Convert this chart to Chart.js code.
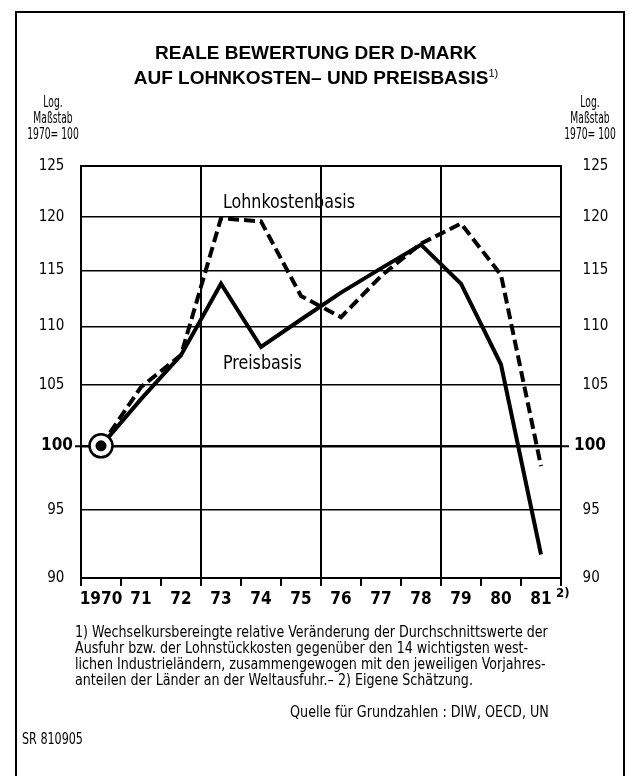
<!DOCTYPE html>
<html lang="de">
<head>
<meta charset="utf-8">
<title>Reale Bewertung der D-Mark</title>
<script src="https://cdn.jsdelivr.net/npm/chart.js@4.4.1/dist/chart.umd.min.js"></script>
<style>
    html, body { margin: 0; padding: 0; background: #fff; }
    body { width: 630px; height: 776px; position: relative; overflow: hidden; }
    #rahmen {
        position: absolute; left: 15px; top: 11px; width: 610px; height: 800px;
        border: 2px solid #000; border-bottom: none; box-sizing: border-box;
    }
    canvas { position: absolute; left: 0; top: 0; }
    .txt {
        position: absolute; color: #000; white-space: nowrap;
        font-family: "DejaVu Sans Condensed", "DejaVu Sans", sans-serif;
        transform-origin: left top;
    }
    #titel {
        left: 0; width: 632px; top: 42px; text-align: center;
        font: bold 19px "Liberation Sans", Arial, sans-serif; line-height: 21px;
    }
    #titel sup { font-size: 11px; font-weight: normal; vertical-align: 7px; }
    .kopf { font-size: 15.5px; line-height: 16px; text-align: center; top: 94px; width: 90px; transform: scaleX(0.66); transform-origin: center top; }
    .serie { font-size: 19px; transform: scaleX(0.93); }
    #fussnote { left: 75px; top: 624px; font-size: 15.5px; line-height: 16px; transform: scaleX(0.91); }
    #quelle { left: 290px; top: 703px; font-size: 15.5px; transform: scaleX(0.915); }
    #kennung { left: 22px; top: 730px; font-size: 15.5px; transform: scaleX(0.8); }
    #fn2 { left: 556px; top: 585px; font-size: 13px; font-weight: bold; }
</style>
</head>
<body>
<div id="rahmen"></div>
<canvas id="bewertungChart" width="630" height="776"></canvas>

<div id="titel" class="txt">REALE BEWERTUNG DER D-MARK<br>AUF LOHNKOSTEN– UND PREISBASIS<sup>1)</sup></div>
<div class="txt kopf" style="left: 8px;">Log.<br>Maßstab<br>1970= 100</div>
<div class="txt kopf" style="left: 545px;">Log.<br>Maßstab<br>1970= 100</div>
<div class="txt serie" style="left: 223px; top: 190px;">Lohnkostenbasis</div>
<div class="txt serie" style="left: 223px; top: 351px;">Preisbasis</div>
<div id="fn2" class="txt">2)</div>
<div id="fussnote" class="txt">1) Wechselkursbereingte relative Veränderung der Durchschnittswerte der<br>Ausfuhr bzw. der Lohnstückkosten gegenüber den 14 wichtigsten west-<br>lichen Industrieländern, zusammengewogen mit den jeweiligen Vorjahres-<br>anteilen der Länder an der Weltausfuhr.– 2) Eigene Schätzung.</div>
<div id="quelle" class="txt">Quelle für Grundzahlen : DIW, OECD, UN</div>
<div id="kennung" class="txt">SR 810905</div>

<script>
// Jahre (1970 = 100), Werte auf log. Maßstab
const jahre = ['1970', '71', '72', '73', '74', '75', '76', '77', '78', '79', '80', '81'];
const lohnkostenbasis = [100, 104.8, 107.5, 119.9, 119.6, 112.7, 110.8, 114.5, 117.5, 119.4, 114.6, 98.4];
const preisbasis = [100, 103.8, 107.5, 113.8, 108.2, 110.6, 113.0, 115.2, 117.4, 113.8, 106.7, 91.7];
const basisjahr = [100, null, null, null, null, null, null, null, null, null, null, null];
const yTicks = [90, 95, 100, 105, 110, 115, 120, 125];
const xGitter = [3, 6, 9]; // senkrechte Linien nach 72, 75, 78

const schmal = '"DejaVu Sans Condensed", "DejaVu Sans", sans-serif';

function tickFont(ctx) {
    if (ctx.tick && ctx.tick.value === 100) {
        return { family: schmal, size: 17, weight: 'bold' };
    }
    return { family: schmal, size: 15 };
}

function yAchse(position) {
    const links = position === 'left';
    return {
        type: 'logarithmic',
        position: position,
        min: 90,
        max: 125,
        afterBuildTicks: (scale) => {
            scale.ticks = yTicks.map(v => ({ value: v }));
        },
        afterFit: (scale) => {
            scale.width = links ? 81 : 69;
        },
        ticks: {
            color: '#000',
            padding: links ? 2 : 5,
            font: tickFont,
            callback: (value) => {
                if (value === 100) return '100';
                return links ? value + '  ' : '  ' + value;
            }
        },
        grid: {
            drawOnChartArea: links,
            color: '#000',
            lineWidth: (ctx) => (ctx.tick && ctx.tick.value === 100 ? 2.5 : (ctx.tick && ctx.tick.value === 125 ? 2 : 1.5)),
            tickLength: links ? 6 : 8,
            tickColor: (ctx) => (ctx.tick && ctx.tick.value === 100 ? '#000' : 'rgba(0,0,0,0)'),
            tickWidth: 2
        },
        border: { display: true, color: '#000', width: 2 }
    };
}

const ctx = document.getElementById('bewertungChart').getContext('2d');
const chart = new Chart(ctx, {
    type: 'line',
    data: {
        labels: jahre,
        datasets: [{
            label: 'Basis 1970 (Punkt)',
            data: basisjahr,
            showLine: false,
            pointRadius: 5.5,
            pointBackgroundColor: '#000',
            pointBorderWidth: 0,
            order: 0
        }, {
            label: 'Basis 1970 (Ring)',
            data: basisjahr,
            showLine: false,
            pointRadius: 11.5,
            pointBackgroundColor: '#fff',
            pointBorderColor: '#000',
            pointBorderWidth: 2.5,
            order: 1
        }, {
            label: 'Preisbasis',
            data: preisbasis,
            borderColor: '#000',
            borderWidth: 4,
            pointRadius: 0,
            tension: 0,
            order: 2
        }, {
            label: 'Lohnkostenbasis',
            data: lohnkostenbasis,
            borderColor: '#000',
            borderWidth: 4,
            borderDash: [11, 5],
            pointRadius: 0,
            tension: 0,
            order: 3
        }]
    },
    options: {
        responsive: false,
        animation: false,
        layout: { padding: { left: 0, right: 0, top: 166, bottom: 0 } },
        plugins: {
            legend: { display: false },
            tooltip: { enabled: false }
        },
        scales: {
            x: {
                type: 'category',
                offset: true,
                afterFit: (scale) => {
                    scale.height = 776 - 578;
                },
                ticks: {
                    color: '#000',
                    padding: 3,
                    maxRotation: 0,
                    autoSkip: false,
                    font: { family: schmal, size: 17, weight: 'bold' }
                },
                grid: {
                    offset: true,
                    color: (ctx) => (xGitter.includes(ctx.index) ? '#000' : 'rgba(0,0,0,0)'),
                    lineWidth: 2,
                    tickLength: 8,
                    tickColor: '#000',
                    tickWidth: 2
                },
                border: { display: true, color: '#000', width: 2 }
            },
            y: yAchse('left'),
            y1: yAchse('right')
        }
    }
});
</script>
</body>
</html>
